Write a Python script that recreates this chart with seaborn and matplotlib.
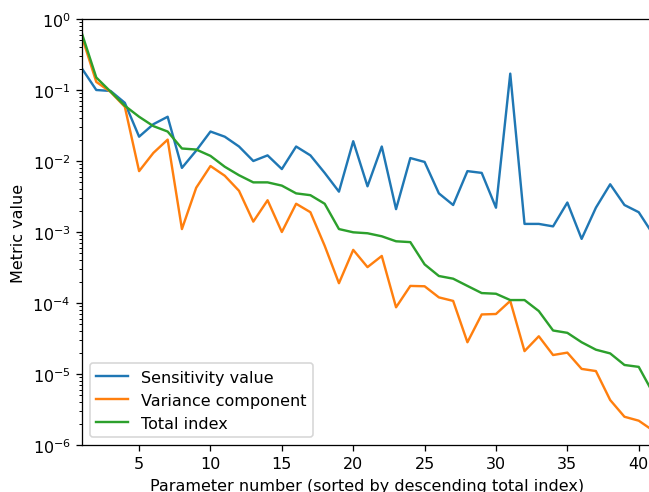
import numpy as np
import pandas as pd
import matplotlib
matplotlib.use("Agg")
import matplotlib.pyplot as plt
import seaborn as sns

param = list(range(1, 42))

sensitivity = [0.20, 0.10, 0.097, 0.066, 0.022, 0.033, 0.042, 0.0080, 0.014, 0.026,
               0.022, 0.016, 0.010, 0.012, 0.0077, 0.016, 0.012, 0.0068, 0.0037, 0.019,
               0.0044, 0.016, 0.0021, 0.011, 0.0097, 0.0035, 0.0024, 0.0072, 0.0068, 0.0022,
               0.17, 0.0013, 0.0013, 0.0012, 0.0026, 0.00080, 0.0022, 0.0047, 0.0024, 0.0019,
               0.00093]

variance = [0.56, 0.13, 0.094, 0.058, 0.0072, 0.013, 0.020, 0.0011, 0.0042, 0.0085,
            0.0062, 0.0038, 0.0014, 0.0028, 0.0010, 0.0025, 0.0019, 0.00064, 0.00019, 0.00056,
            0.00032, 0.00046, 0.000087, 0.000174, 0.000172, 0.00012, 0.000107, 0.000028, 0.000069, 0.00007,
            0.000107, 0.000021, 0.000034, 0.0000185, 0.000020, 0.0000118, 0.000011, 0.0000043, 0.0000025, 0.0000022,
            0.0000016]

total = [0.62, 0.15, 0.095, 0.060, 0.042, 0.031, 0.026, 0.015, 0.0145, 0.0118,
         0.0083, 0.0063, 0.0050, 0.0050, 0.0045, 0.0035, 0.0033, 0.0025, 0.0011, 0.00099,
         0.00096, 0.00087, 0.00074, 0.00072, 0.00035, 0.00024, 0.00022, 0.000174, 0.000138, 0.000135,
         0.00011, 0.00011, 0.000077, 0.000041, 0.000038, 0.000028, 0.000022, 0.0000195, 0.0000134, 0.0000126,
         0.0000054]

df = pd.DataFrame({'param': param, 'sens': sensitivity, 'var': variance, 'total': total})

DPI = 115
fig = plt.figure(figsize=(649/DPI, 493/DPI), dpi=DPI)
# axes runs a little past the right edge, as in the original
ax = fig.add_axes([82/649, 47/493, 571/649, 426/493])

sns.lineplot(data=df, x='param', y='sens', color='C0', label='Sensitivity value', ax=ax)
sns.lineplot(data=df, x='param', y='var', color='C1', label='Variance component', ax=ax)
sns.lineplot(data=df, x='param', y='total', color='C2', label='Total index', ax=ax)

ax.set_yscale('log')
ax.set_ylim(1e-6, 1e0)
ax.set_xlim(1, 41)
ax.set_xticks([5, 10, 15, 20, 25, 30, 35, 40])
ax.set_xlabel("Parameter number (sorted by descending total index)")
ax.set_ylabel("Metric value")
ax.legend(loc='lower left')

fig.savefig('out.png', dpi=DPI)
